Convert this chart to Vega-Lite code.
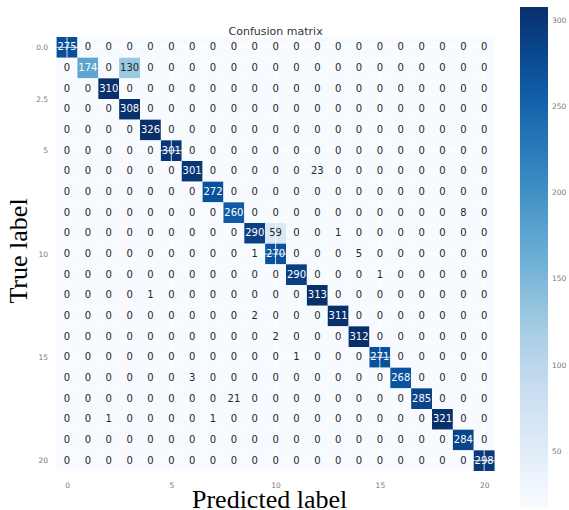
{
"$schema":"https://vega.github.io/schema/vega-lite/v6.json",
"width":438,"height":434,
"autosize":"none",
"padding":{"left":56.6,"top":37,"right":74.4,"bottom":39},
"background":"white",
"config":{"view":{"stroke":null},"font":"DejaVu Sans"},
"title":{"text":"Confusion matrix","fontSize":11,"fontWeight":"normal","color":"#333","font":"DejaVu Sans","offset":3,"dy":33},
"data":{"values":[
{"t":0,"p":0,"v":275},{"t":0,"p":1,"v":0},{"t":0,"p":2,"v":0},{"t":0,"p":3,"v":0},{"t":0,"p":4,"v":0},{"t":0,"p":5,"v":0},{"t":0,"p":6,"v":0},{"t":0,"p":7,"v":0},{"t":0,"p":8,"v":0},{"t":0,"p":9,"v":0},{"t":0,"p":10,"v":0},{"t":0,"p":11,"v":0},{"t":0,"p":12,"v":0},{"t":0,"p":13,"v":0},{"t":0,"p":14,"v":0},{"t":0,"p":15,"v":0},{"t":0,"p":16,"v":0},{"t":0,"p":17,"v":0},{"t":0,"p":18,"v":0},{"t":0,"p":19,"v":0},{"t":0,"p":20,"v":0},
{"t":1,"p":0,"v":0},{"t":1,"p":1,"v":174},{"t":1,"p":2,"v":0},{"t":1,"p":3,"v":130},{"t":1,"p":4,"v":0},{"t":1,"p":5,"v":0},{"t":1,"p":6,"v":0},{"t":1,"p":7,"v":0},{"t":1,"p":8,"v":0},{"t":1,"p":9,"v":0},{"t":1,"p":10,"v":0},{"t":1,"p":11,"v":0},{"t":1,"p":12,"v":0},{"t":1,"p":13,"v":0},{"t":1,"p":14,"v":0},{"t":1,"p":15,"v":0},{"t":1,"p":16,"v":0},{"t":1,"p":17,"v":0},{"t":1,"p":18,"v":0},{"t":1,"p":19,"v":0},{"t":1,"p":20,"v":0},
{"t":2,"p":0,"v":0},{"t":2,"p":1,"v":0},{"t":2,"p":2,"v":310},{"t":2,"p":3,"v":0},{"t":2,"p":4,"v":0},{"t":2,"p":5,"v":0},{"t":2,"p":6,"v":0},{"t":2,"p":7,"v":0},{"t":2,"p":8,"v":0},{"t":2,"p":9,"v":0},{"t":2,"p":10,"v":0},{"t":2,"p":11,"v":0},{"t":2,"p":12,"v":0},{"t":2,"p":13,"v":0},{"t":2,"p":14,"v":0},{"t":2,"p":15,"v":0},{"t":2,"p":16,"v":0},{"t":2,"p":17,"v":0},{"t":2,"p":18,"v":0},{"t":2,"p":19,"v":0},{"t":2,"p":20,"v":0},
{"t":3,"p":0,"v":0},{"t":3,"p":1,"v":0},{"t":3,"p":2,"v":0},{"t":3,"p":3,"v":308},{"t":3,"p":4,"v":0},{"t":3,"p":5,"v":0},{"t":3,"p":6,"v":0},{"t":3,"p":7,"v":0},{"t":3,"p":8,"v":0},{"t":3,"p":9,"v":0},{"t":3,"p":10,"v":0},{"t":3,"p":11,"v":0},{"t":3,"p":12,"v":0},{"t":3,"p":13,"v":0},{"t":3,"p":14,"v":0},{"t":3,"p":15,"v":0},{"t":3,"p":16,"v":0},{"t":3,"p":17,"v":0},{"t":3,"p":18,"v":0},{"t":3,"p":19,"v":0},{"t":3,"p":20,"v":0},
{"t":4,"p":0,"v":0},{"t":4,"p":1,"v":0},{"t":4,"p":2,"v":0},{"t":4,"p":3,"v":0},{"t":4,"p":4,"v":326},{"t":4,"p":5,"v":0},{"t":4,"p":6,"v":0},{"t":4,"p":7,"v":0},{"t":4,"p":8,"v":0},{"t":4,"p":9,"v":0},{"t":4,"p":10,"v":0},{"t":4,"p":11,"v":0},{"t":4,"p":12,"v":0},{"t":4,"p":13,"v":0},{"t":4,"p":14,"v":0},{"t":4,"p":15,"v":0},{"t":4,"p":16,"v":0},{"t":4,"p":17,"v":0},{"t":4,"p":18,"v":0},{"t":4,"p":19,"v":0},{"t":4,"p":20,"v":0},
{"t":5,"p":0,"v":0},{"t":5,"p":1,"v":0},{"t":5,"p":2,"v":0},{"t":5,"p":3,"v":0},{"t":5,"p":4,"v":0},{"t":5,"p":5,"v":301},{"t":5,"p":6,"v":0},{"t":5,"p":7,"v":0},{"t":5,"p":8,"v":0},{"t":5,"p":9,"v":0},{"t":5,"p":10,"v":0},{"t":5,"p":11,"v":0},{"t":5,"p":12,"v":0},{"t":5,"p":13,"v":0},{"t":5,"p":14,"v":0},{"t":5,"p":15,"v":0},{"t":5,"p":16,"v":0},{"t":5,"p":17,"v":0},{"t":5,"p":18,"v":0},{"t":5,"p":19,"v":0},{"t":5,"p":20,"v":0},
{"t":6,"p":0,"v":0},{"t":6,"p":1,"v":0},{"t":6,"p":2,"v":0},{"t":6,"p":3,"v":0},{"t":6,"p":4,"v":0},{"t":6,"p":5,"v":0},{"t":6,"p":6,"v":301},{"t":6,"p":7,"v":0},{"t":6,"p":8,"v":0},{"t":6,"p":9,"v":0},{"t":6,"p":10,"v":0},{"t":6,"p":11,"v":0},{"t":6,"p":12,"v":23},{"t":6,"p":13,"v":0},{"t":6,"p":14,"v":0},{"t":6,"p":15,"v":0},{"t":6,"p":16,"v":0},{"t":6,"p":17,"v":0},{"t":6,"p":18,"v":0},{"t":6,"p":19,"v":0},{"t":6,"p":20,"v":0},
{"t":7,"p":0,"v":0},{"t":7,"p":1,"v":0},{"t":7,"p":2,"v":0},{"t":7,"p":3,"v":0},{"t":7,"p":4,"v":0},{"t":7,"p":5,"v":0},{"t":7,"p":6,"v":0},{"t":7,"p":7,"v":272},{"t":7,"p":8,"v":0},{"t":7,"p":9,"v":0},{"t":7,"p":10,"v":0},{"t":7,"p":11,"v":0},{"t":7,"p":12,"v":0},{"t":7,"p":13,"v":0},{"t":7,"p":14,"v":0},{"t":7,"p":15,"v":0},{"t":7,"p":16,"v":0},{"t":7,"p":17,"v":0},{"t":7,"p":18,"v":0},{"t":7,"p":19,"v":0},{"t":7,"p":20,"v":0},
{"t":8,"p":0,"v":0},{"t":8,"p":1,"v":0},{"t":8,"p":2,"v":0},{"t":8,"p":3,"v":0},{"t":8,"p":4,"v":0},{"t":8,"p":5,"v":0},{"t":8,"p":6,"v":0},{"t":8,"p":7,"v":0},{"t":8,"p":8,"v":260},{"t":8,"p":9,"v":0},{"t":8,"p":10,"v":0},{"t":8,"p":11,"v":0},{"t":8,"p":12,"v":0},{"t":8,"p":13,"v":0},{"t":8,"p":14,"v":0},{"t":8,"p":15,"v":0},{"t":8,"p":16,"v":0},{"t":8,"p":17,"v":0},{"t":8,"p":18,"v":0},{"t":8,"p":19,"v":8},{"t":8,"p":20,"v":0},
{"t":9,"p":0,"v":0},{"t":9,"p":1,"v":0},{"t":9,"p":2,"v":0},{"t":9,"p":3,"v":0},{"t":9,"p":4,"v":0},{"t":9,"p":5,"v":0},{"t":9,"p":6,"v":0},{"t":9,"p":7,"v":0},{"t":9,"p":8,"v":0},{"t":9,"p":9,"v":290},{"t":9,"p":10,"v":59},{"t":9,"p":11,"v":0},{"t":9,"p":12,"v":0},{"t":9,"p":13,"v":1},{"t":9,"p":14,"v":0},{"t":9,"p":15,"v":0},{"t":9,"p":16,"v":0},{"t":9,"p":17,"v":0},{"t":9,"p":18,"v":0},{"t":9,"p":19,"v":0},{"t":9,"p":20,"v":0},
{"t":10,"p":0,"v":0},{"t":10,"p":1,"v":0},{"t":10,"p":2,"v":0},{"t":10,"p":3,"v":0},{"t":10,"p":4,"v":0},{"t":10,"p":5,"v":0},{"t":10,"p":6,"v":0},{"t":10,"p":7,"v":0},{"t":10,"p":8,"v":0},{"t":10,"p":9,"v":1},{"t":10,"p":10,"v":270},{"t":10,"p":11,"v":0},{"t":10,"p":12,"v":0},{"t":10,"p":13,"v":0},{"t":10,"p":14,"v":5},{"t":10,"p":15,"v":0},{"t":10,"p":16,"v":0},{"t":10,"p":17,"v":0},{"t":10,"p":18,"v":0},{"t":10,"p":19,"v":0},{"t":10,"p":20,"v":0},
{"t":11,"p":0,"v":0},{"t":11,"p":1,"v":0},{"t":11,"p":2,"v":0},{"t":11,"p":3,"v":0},{"t":11,"p":4,"v":0},{"t":11,"p":5,"v":0},{"t":11,"p":6,"v":0},{"t":11,"p":7,"v":0},{"t":11,"p":8,"v":0},{"t":11,"p":9,"v":0},{"t":11,"p":10,"v":0},{"t":11,"p":11,"v":290},{"t":11,"p":12,"v":0},{"t":11,"p":13,"v":0},{"t":11,"p":14,"v":0},{"t":11,"p":15,"v":1},{"t":11,"p":16,"v":0},{"t":11,"p":17,"v":0},{"t":11,"p":18,"v":0},{"t":11,"p":19,"v":0},{"t":11,"p":20,"v":0},
{"t":12,"p":0,"v":0},{"t":12,"p":1,"v":0},{"t":12,"p":2,"v":0},{"t":12,"p":3,"v":0},{"t":12,"p":4,"v":1},{"t":12,"p":5,"v":0},{"t":12,"p":6,"v":0},{"t":12,"p":7,"v":0},{"t":12,"p":8,"v":0},{"t":12,"p":9,"v":0},{"t":12,"p":10,"v":0},{"t":12,"p":11,"v":0},{"t":12,"p":12,"v":313},{"t":12,"p":13,"v":0},{"t":12,"p":14,"v":0},{"t":12,"p":15,"v":0},{"t":12,"p":16,"v":0},{"t":12,"p":17,"v":0},{"t":12,"p":18,"v":0},{"t":12,"p":19,"v":0},{"t":12,"p":20,"v":0},
{"t":13,"p":0,"v":0},{"t":13,"p":1,"v":0},{"t":13,"p":2,"v":0},{"t":13,"p":3,"v":0},{"t":13,"p":4,"v":0},{"t":13,"p":5,"v":0},{"t":13,"p":6,"v":0},{"t":13,"p":7,"v":0},{"t":13,"p":8,"v":0},{"t":13,"p":9,"v":2},{"t":13,"p":10,"v":0},{"t":13,"p":11,"v":0},{"t":13,"p":12,"v":0},{"t":13,"p":13,"v":311},{"t":13,"p":14,"v":0},{"t":13,"p":15,"v":0},{"t":13,"p":16,"v":0},{"t":13,"p":17,"v":0},{"t":13,"p":18,"v":0},{"t":13,"p":19,"v":0},{"t":13,"p":20,"v":0},
{"t":14,"p":0,"v":0},{"t":14,"p":1,"v":0},{"t":14,"p":2,"v":0},{"t":14,"p":3,"v":0},{"t":14,"p":4,"v":0},{"t":14,"p":5,"v":0},{"t":14,"p":6,"v":0},{"t":14,"p":7,"v":0},{"t":14,"p":8,"v":0},{"t":14,"p":9,"v":0},{"t":14,"p":10,"v":2},{"t":14,"p":11,"v":0},{"t":14,"p":12,"v":0},{"t":14,"p":13,"v":0},{"t":14,"p":14,"v":312},{"t":14,"p":15,"v":0},{"t":14,"p":16,"v":0},{"t":14,"p":17,"v":0},{"t":14,"p":18,"v":0},{"t":14,"p":19,"v":0},{"t":14,"p":20,"v":0},
{"t":15,"p":0,"v":0},{"t":15,"p":1,"v":0},{"t":15,"p":2,"v":0},{"t":15,"p":3,"v":0},{"t":15,"p":4,"v":0},{"t":15,"p":5,"v":0},{"t":15,"p":6,"v":0},{"t":15,"p":7,"v":0},{"t":15,"p":8,"v":0},{"t":15,"p":9,"v":0},{"t":15,"p":10,"v":0},{"t":15,"p":11,"v":1},{"t":15,"p":12,"v":0},{"t":15,"p":13,"v":0},{"t":15,"p":14,"v":0},{"t":15,"p":15,"v":271},{"t":15,"p":16,"v":0},{"t":15,"p":17,"v":0},{"t":15,"p":18,"v":0},{"t":15,"p":19,"v":0},{"t":15,"p":20,"v":0},
{"t":16,"p":0,"v":0},{"t":16,"p":1,"v":0},{"t":16,"p":2,"v":0},{"t":16,"p":3,"v":0},{"t":16,"p":4,"v":0},{"t":16,"p":5,"v":0},{"t":16,"p":6,"v":3},{"t":16,"p":7,"v":0},{"t":16,"p":8,"v":0},{"t":16,"p":9,"v":0},{"t":16,"p":10,"v":0},{"t":16,"p":11,"v":0},{"t":16,"p":12,"v":0},{"t":16,"p":13,"v":0},{"t":16,"p":14,"v":0},{"t":16,"p":15,"v":0},{"t":16,"p":16,"v":268},{"t":16,"p":17,"v":0},{"t":16,"p":18,"v":0},{"t":16,"p":19,"v":0},{"t":16,"p":20,"v":0},
{"t":17,"p":0,"v":0},{"t":17,"p":1,"v":0},{"t":17,"p":2,"v":0},{"t":17,"p":3,"v":0},{"t":17,"p":4,"v":0},{"t":17,"p":5,"v":0},{"t":17,"p":6,"v":0},{"t":17,"p":7,"v":0},{"t":17,"p":8,"v":21},{"t":17,"p":9,"v":0},{"t":17,"p":10,"v":0},{"t":17,"p":11,"v":0},{"t":17,"p":12,"v":0},{"t":17,"p":13,"v":0},{"t":17,"p":14,"v":0},{"t":17,"p":15,"v":0},{"t":17,"p":16,"v":0},{"t":17,"p":17,"v":285},{"t":17,"p":18,"v":0},{"t":17,"p":19,"v":0},{"t":17,"p":20,"v":0},
{"t":18,"p":0,"v":0},{"t":18,"p":1,"v":0},{"t":18,"p":2,"v":1},{"t":18,"p":3,"v":0},{"t":18,"p":4,"v":0},{"t":18,"p":5,"v":0},{"t":18,"p":6,"v":0},{"t":18,"p":7,"v":1},{"t":18,"p":8,"v":0},{"t":18,"p":9,"v":0},{"t":18,"p":10,"v":0},{"t":18,"p":11,"v":0},{"t":18,"p":12,"v":0},{"t":18,"p":13,"v":0},{"t":18,"p":14,"v":0},{"t":18,"p":15,"v":0},{"t":18,"p":16,"v":0},{"t":18,"p":17,"v":0},{"t":18,"p":18,"v":321},{"t":18,"p":19,"v":0},{"t":18,"p":20,"v":0},
{"t":19,"p":0,"v":0},{"t":19,"p":1,"v":0},{"t":19,"p":2,"v":0},{"t":19,"p":3,"v":0},{"t":19,"p":4,"v":0},{"t":19,"p":5,"v":0},{"t":19,"p":6,"v":0},{"t":19,"p":7,"v":0},{"t":19,"p":8,"v":0},{"t":19,"p":9,"v":0},{"t":19,"p":10,"v":0},{"t":19,"p":11,"v":0},{"t":19,"p":12,"v":0},{"t":19,"p":13,"v":0},{"t":19,"p":14,"v":0},{"t":19,"p":15,"v":0},{"t":19,"p":16,"v":0},{"t":19,"p":17,"v":0},{"t":19,"p":18,"v":0},{"t":19,"p":19,"v":284},{"t":19,"p":20,"v":0},
{"t":20,"p":0,"v":0},{"t":20,"p":1,"v":0},{"t":20,"p":2,"v":0},{"t":20,"p":3,"v":0},{"t":20,"p":4,"v":0},{"t":20,"p":5,"v":0},{"t":20,"p":6,"v":0},{"t":20,"p":7,"v":0},{"t":20,"p":8,"v":0},{"t":20,"p":9,"v":0},{"t":20,"p":10,"v":0},{"t":20,"p":11,"v":0},{"t":20,"p":12,"v":0},{"t":20,"p":13,"v":0},{"t":20,"p":14,"v":0},{"t":20,"p":15,"v":0},{"t":20,"p":16,"v":0},{"t":20,"p":17,"v":0},{"t":20,"p":18,"v":0},{"t":20,"p":19,"v":0},{"t":20,"p":20,"v":298}
]},
"layer":[
{"mark":{"type":"rect","width":20.857,"height":20.667},
 "encoding":{
 "x":{"field":"p","type":"quantitative","scale":{"domain":[-0.5,20.5],"nice":false,"zero":false},
  "axis":{"values":[0,5,10,15,20],"orient":"bottom","ticks":false,"domain":false,"grid":false,"labelFontSize":7.5,"labelColor":"#777","labelPadding":10,
  "title":"Predicted label","titleFont":"Liberation Serif","titleFontSize":26,"titleFontWeight":"normal","titleColor":"black","titleBaseline":"alphabetic","titleX":212.5,"titleY":36}},
 "y":{"field":"t","type":"quantitative","scale":{"domain":[-0.5,20.5],"nice":false,"zero":false,"reverse":true},
  "axis":{"values":[0,2.5,5,10,15,20],"ticks":false,"domain":false,"grid":false,"labelFontSize":7.5,"labelColor":"#777","labelPadding":9,
  "labelExpr":"datum.value == 0 ? '0.0' : datum.value == 2.5 ? '2.5' : format(datum.value, 'd')",
  "title":"True label","titleFont":"Liberation Serif","titleFontSize":26,"titleFontWeight":"normal","titleColor":"black","titleBaseline":"alphabetic","titleX":-29.6,"titleY":213.5}},
 "color":{"field":"v","type":"quantitative",
  "scale":{"domain":[18,54.25,90.5,126.75,163,199.25,235.5,271.75,308],"range":["#f7fbff","#deebf7","#c6dbef","#9ecae1","#6baed6","#4292c6","#2171b5","#08519c","#08306b"],"clamp":true},
  "legend":{"orient":"none","legendX":463.4,"legendY":-30,"direction":"vertical","gradientLength":500,"gradientThickness":28,"gradientStrokeWidth":0,
   "values":[50,100,150,200,250,300],"title":null,"labelFontSize":7.5,"labelColor":"#777","labelOffset":4}}}},
{"data":{"values":[{"g":0},{"g":5},{"g":10},{"g":15},{"g":20}]},
 "mark":{"type":"rule","color":"white","opacity":0.8,"strokeWidth":1},
 "encoding":{"x":{"field":"g","type":"quantitative"}}},
{"data":{"values":[{"g":0},{"g":5},{"g":10},{"g":15},{"g":20}]},
 "mark":{"type":"rule","color":"white","opacity":0.8,"strokeWidth":1},
 "encoding":{"y":{"field":"g","type":"quantitative"}}},
{"mark":{"type":"text","fontSize":10,"font":"DejaVu Sans"},
 "encoding":{
  "x":{"field":"p","type":"quantitative"},
  "y":{"field":"t","type":"quantitative"},
  "text":{"field":"v","type":"quantitative"},
  "color":{"condition":{"test":"datum.v > 150","value":"white"},"value":"#262626"}}}
]
}
